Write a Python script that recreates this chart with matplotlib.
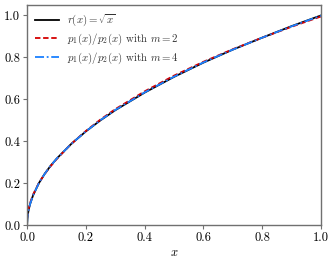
import matplotlib
matplotlib.use("Agg")
import matplotlib.pyplot as plt

# values
x_vals = [0.0, 0.001, 0.003, 0.005, 0.01, 0.02, 0.04, 0.06, 0.08, 0.1, 0.15,
          0.2, 0.25, 0.3, 0.4, 0.5, 0.6, 0.7, 0.8, 0.9, 1.0]
r_vals = [0.0, 0.032, 0.055, 0.071, 0.100, 0.141, 0.200, 0.245, 0.283, 0.316, 0.387,
          0.447, 0.500, 0.548, 0.632, 0.707, 0.775, 0.837, 0.894, 0.949, 1.000]
m2_vals = [0.030, 0.045, 0.064, 0.079, 0.105, 0.145, 0.201, 0.244, 0.281, 0.314, 0.387,
           0.449, 0.504, 0.553, 0.638, 0.713, 0.779, 0.839, 0.894, 0.946, 0.995]
m4_vals = [0.012, 0.035, 0.057, 0.072, 0.100, 0.141, 0.200, 0.245, 0.283, 0.316, 0.387,
           0.447, 0.501, 0.549, 0.633, 0.708, 0.776, 0.837, 0.894, 0.948, 0.999]

plt.rcParams["font.family"] = "serif"
plt.rcParams["font.serif"] = ["cmr10"]
plt.rcParams["mathtext.fontset"] = "cm"
plt.rcParams["axes.formatter.use_mathtext"] = True
plt.rcParams["axes.unicode_minus"] = False

fig = plt.figure(figsize=(3.35, 2.62), dpi=100)
ax = fig.add_axes([0.081, 0.141, 0.877, 0.840])

ax.plot(x_vals, r_vals, color="black", lw=1.3, label=r"$r(x) = \sqrt{x}$")
ax.plot(x_vals, m2_vals, color="#d40000", lw=1.3, ls=(0, (3, 1.5)),
        label=r"$p_1(x)/p_2(x)$ with $m=2$")
ax.plot(x_vals, m4_vals, color="#1a80ff", lw=1.3, ls=(0, (5, 1.5, 1, 1.5)),
        label=r"$p_1(x)/p_2(x)$ with $m=4$")

ax.set_xlim(0, 1)
ax.set_ylim(0, 1.05)
ax.set_xticks([0, 0.2, 0.4, 0.6, 0.8, 1.0])
ax.set_yticks([0, 0.2, 0.4, 0.6, 0.8, 1.0])
ax.set_xticklabels(["0.0", "0.2", "0.4", "0.6", "0.8", "1.0"])
ax.set_yticklabels(["0.0", "0.2", "0.4", "0.6", "0.8", "1.0"])
ax.tick_params(labelsize=9, length=3, width=0.8, color="#707070", pad=2)
for s in ax.spines.values():
    s.set_color("#707070")
    s.set_linewidth(1.0)
ax.set_xlabel(r"$x$", fontsize=9, labelpad=2)

leg = ax.legend(loc="upper left", frameon=False, fontsize=7.8, handlelength=2.2,
                labelspacing=0.3, borderaxespad=0.3, handletextpad=0.8)
for t in leg.get_texts():
    t.set_color("#333333")

fig.savefig("out.png", dpi=100, facecolor="white")
